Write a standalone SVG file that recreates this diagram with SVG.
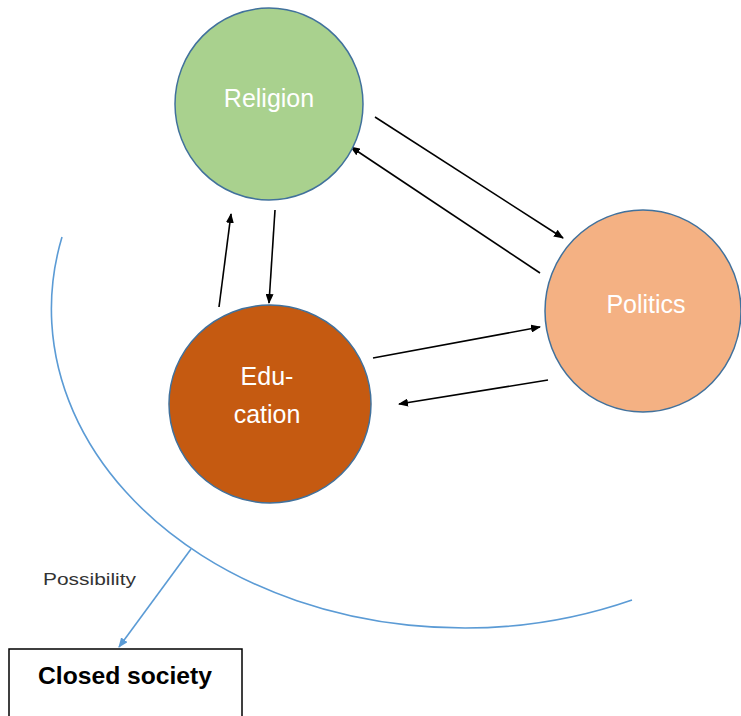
<svg xmlns="http://www.w3.org/2000/svg" width="741" height="716" viewBox="0 0 741 716">
<style>
.node{stroke:#41719c;stroke-width:1.5}
.lbl{font-family:"Liberation Sans",Arial,sans-serif;font-size:25px;fill:#ffffff;text-anchor:middle}
.conn{stroke:#000;stroke-width:1.6;fill:none;marker-end:url(#ah)}
.blue{stroke:#5b9bd5;stroke-width:1.6;fill:none}
</style>
<defs>
<marker id="ah" markerWidth="10" markerHeight="8" refX="9" refY="4" orient="auto" markerUnits="userSpaceOnUse">
<path d="M0,0 L10,4 L0,8 z" fill="#000"/>
</marker>
<marker id="bh" markerWidth="10" markerHeight="8" refX="9" refY="4" orient="auto" markerUnits="userSpaceOnUse">
<path d="M0,0 L10,4 L0,8 z" fill="#5b9bd5"/>
</marker>
</defs>
<rect width="741" height="716" fill="#fff"/>
<g id="connectors">
<path class="blue" d="M62,237 A412,319 0 0,0 632,600"/>
<line class="blue" x1="191" y1="549" x2="119" y2="647" marker-end="url(#bh)"/>
<line class="conn" x1="375" y1="117" x2="563" y2="238"/>
<line class="conn" x1="540" y1="273" x2="351" y2="147"/>
<line class="conn" x1="275" y1="210" x2="269" y2="303"/>
<line class="conn" x1="219" y1="307" x2="231" y2="214"/>
<line class="conn" x1="373" y1="358" x2="540" y2="327"/>
<line class="conn" x1="548" y1="380" x2="399" y2="404"/>
</g>
<g id="religion">
<ellipse class="node" cx="269" cy="104" rx="94" ry="96" fill="#a9d18e"/>
<text class="lbl" x="269" y="107">Religion</text>
</g>
<g id="politics">
<ellipse class="node" cx="643" cy="311" rx="98" ry="101" fill="#f4b183"/>
<text class="lbl" x="646" y="313">Politics</text>
</g>
<g id="education">
<ellipse class="node" cx="270" cy="404" rx="101" ry="99" fill="#c55a11"/>
<text class="lbl" x="267" y="385">Edu-</text>
<text class="lbl" x="267" y="423">cation</text>
</g>
<g id="possibility">
<text x="43" y="585" font-family="'Liberation Sans',Arial,sans-serif" font-size="17" fill="#333" textLength="93" lengthAdjust="spacingAndGlyphs">Possibility</text>
</g>
<g id="closed-society">
<rect x="9" y="649" width="233" height="80" fill="#fff" stroke="#000" stroke-width="1.5"/>
<text x="125" y="684" font-family="'Liberation Sans',Arial,sans-serif" font-size="24" font-weight="bold" fill="#000" text-anchor="middle" textLength="174" lengthAdjust="spacingAndGlyphs">Closed society</text>
</g>
</svg>
